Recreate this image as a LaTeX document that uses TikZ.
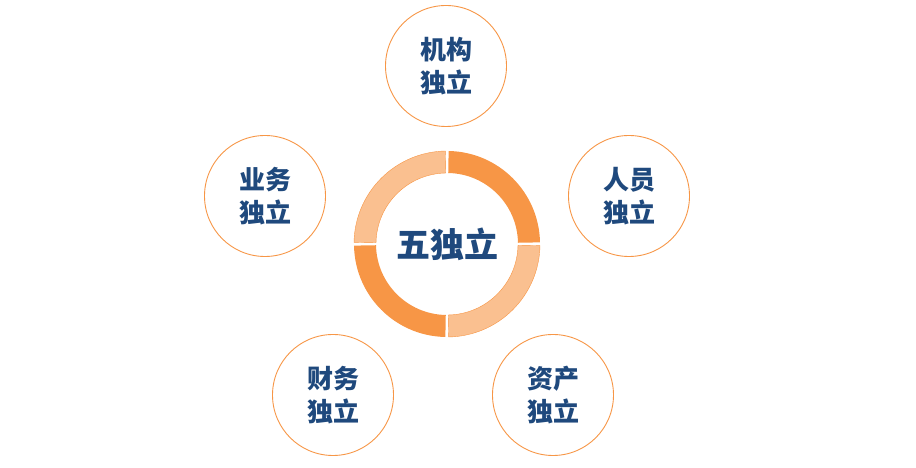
\documentclass[tikz,border=0pt]{standalone}
\usepackage{fontspec}
\newfontfamily\cjk{Noto Sans CJK SC}
\usepackage{tikz}
\usetikzlibrary{calc}
\definecolor{segdark}{HTML}{F79646}
\definecolor{seglight}{HTML}{FAC090}
\definecolor{txtblue}{HTML}{1F497D}

\begin{document}
\begin{tikzpicture}[x=1pt, y=1pt,
			bubble/.style={draw=segdark, line width=0.9pt, circle, minimum size=121pt, fill=white,
				text=txtblue, font=\cjk\bfseries\fontsize{26}{33}\selectfont},
			hub/.style={text=txtblue, font=\cjk\bfseries\fontsize{34}{40}\selectfont},
			every text node part/.style={align=center}]
			\useasboundingbox (0, 0) rectangle (916, 468);
			\coordinate (mid) at (447, 224);

			% ring segments
			\fill[segdark] ($(mid)+(1:93)$) arc[start angle=1, end angle=89, radius=93] -- ($(mid)+(89:71)$) arc[start angle=89, end angle=1, radius=71] -- cycle;
			\filldraw[fill=seglight, draw=segdark, line width=0.4pt] ($(mid)+(91:93)$) arc[start angle=91, end angle=179, radius=93] -- ($(mid)+(179:71)$) arc[start angle=179, end angle=91, radius=71] -- cycle;
			\fill[segdark] ($(mid)+(181:93)$) arc[start angle=181, end angle=269, radius=93] -- ($(mid)+(269:71)$) arc[start angle=269, end angle=181, radius=71] -- cycle;
			\filldraw[fill=seglight, draw=segdark, line width=0.4pt] ($(mid)+(271:93)$) arc[start angle=271, end angle=359, radius=93] -- ($(mid)+(359:71)$) arc[start angle=359, end angle=271, radius=71] -- cycle;

			\node[hub] (core) at (mid) {五独立};

			\node[bubble] (jigou) at (446, 402) {机构\\独立};
			\node[bubble] (renyuan) at (629, 272) {人员\\独立};
			\node[bubble] (zichan) at (553, 73) {资产\\独立};
			\node[bubble] (caiwu) at (333, 73) {财务\\独立};
			\node[bubble] (yewu) at (265, 272) {业务\\独立};
			\end{tikzpicture}
\end{document}
